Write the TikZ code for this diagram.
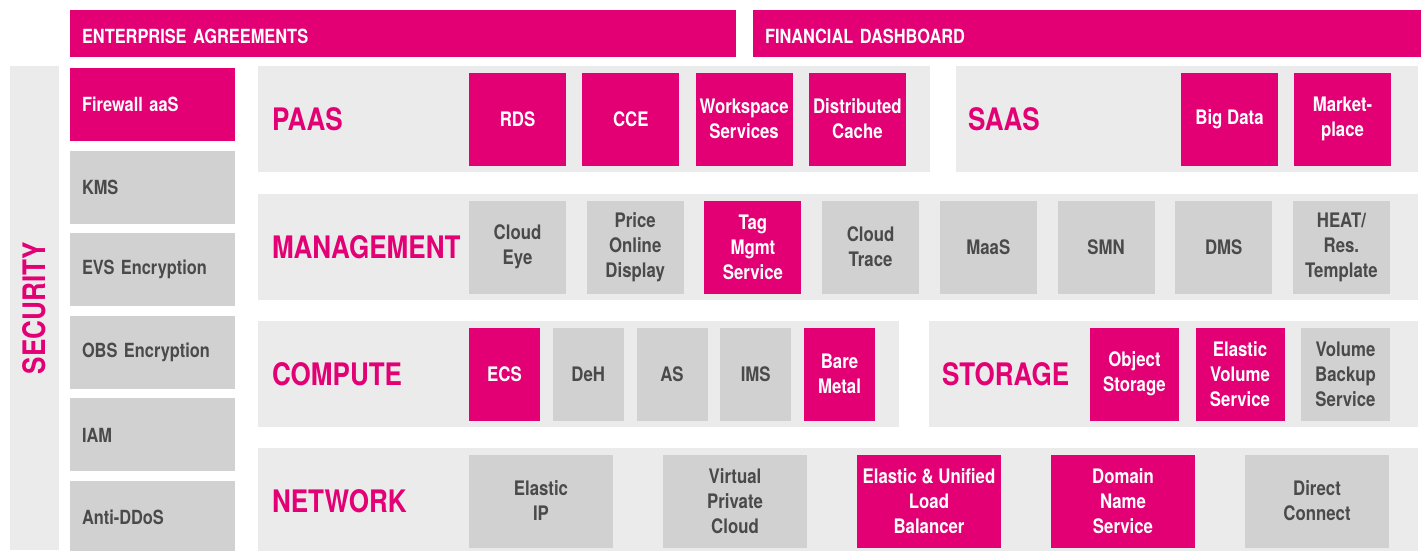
\documentclass[tikz,border=0pt]{standalone}
\usepackage{fontspec}
\setmainfont{TeX Gyre Heros}[FakeStretch=0.84]
\usepackage{tikz}
\usetikzlibrary{positioning}
\definecolor{rosa}{HTML}{E20074}
\definecolor{fondo}{HTML}{EBEBEB}
\definecolor{gris}{HTML}{D0D1D0}
\definecolor{oscuro}{HTML}{4A4A4A}
\tikzset{
	x=1pt, y=-1pt, % Un punto por pixel, y crece hacia abajo
	every node/.style={inner sep=0pt, outer sep=0pt}, % Nodos sin margen
	panel/.style={fill=fondo, minimum height=106pt, anchor=north west}, % Paneles de fondo
	caja/.style={minimum width=97pt, minimum height=93pt, align=center, font=\fontsize{20}{25}\selectfont\bfseries}, % Cajas de servicios
	activo/.style={caja, fill=rosa, text=white}, % Servicio resaltado
	inactivo/.style={caja, fill=gris, text=oscuro}, % Servicio normal
	lateral/.style={fill=gris, text=oscuro, minimum height=73pt, text width=141pt, inner xsep=12pt, align=left, font=\fontsize{19.5}{24}\selectfont\bfseries}, % Columna izquierda
	barra/.style={fill=rosa, text=white, minimum height=47pt, text height=24pt, text depth=5pt, inner xsep=12pt, align=left, anchor=north west, font=\fontsize{19.5}{24}\selectfont\bfseries}, % Barras superiores
	titulo/.style={text=rosa, font=\fontsize{31}{31}\selectfont\bfseries} % Nombre de cada capa
}

\begin{document}
\begin{tikzpicture}
	\useasboundingbox (0,0) rectangle (1421,550);
	% barras superiores
	\node[barra, text width=642pt] (acuerdos) at (70,10) {ENTERPRISE AGREEMENTS};
	\node[barra, text width=644pt] (finanzas) at (753,10) {FINANCIAL DASHBOARD};
	% seguridad
	\node[fill=fondo, minimum width=49pt, minimum height=484pt, anchor=north west] (seguridad) at (10,66) {};
	\node[titulo, rotate=90] (tseguridad) at (seguridad) {SECURITY};
	\node[lateral, fill=rosa, text=white, anchor=north west] (firewall) at (70,68) {Firewall aaS};
	\node[lateral, below=9.6pt of firewall] (kms) {KMS};
	\node[lateral, below=9.6pt of kms] (evs) {EVS Encryption};
	\node[lateral, below=9.6pt of evs] (obs) {OBS Encryption};
	\node[lateral, below=9.6pt of obs] (iam) {IAM};
	\node[lateral, below=9.6pt of iam] (ddos) {Anti-DDoS};
	% paas
	\node[panel, minimum width=672pt] (paas) at (258,66) {};
	\node[titulo, right=14pt of paas.west] (tpaas) {PAAS};
	\node[activo, right=211pt of paas.west] (rds) {RDS};
	\node[activo, right=16.3pt of rds] (cce) {CCE};
	\node[activo, right=16.3pt of cce] (workspace) {Workspace\\Services};
	\node[activo, right=16.3pt of workspace] (cache) {Distributed\\Cache};
	% saas
	\node[panel, minimum width=462pt] (saas) at (956,66) {};
	\node[titulo, right=12pt of saas.west] (tsaas) {SAAS};
	\node[activo, right=225pt of saas.west] (bigdata) {Big Data};
	\node[activo, right=16pt of bigdata] (market) {Market-\\place};
	% management
	\node[panel, minimum width=1160pt] (mgmt) at (258,194) {};
	\node[titulo, right=14pt of mgmt.west] (tmgmt) {MANAGEMENT};
	\node[inactivo, right=211pt of mgmt.west] (cloudeye) {Cloud\\Eye};
	\node[inactivo, right=20.7pt of cloudeye] (price) {Price\\Online\\Display};
	\node[activo, right=20.7pt of price] (tag) {Tag\\Mgmt\\Service};
	\node[inactivo, right=20.7pt of tag] (trace) {Cloud\\Trace};
	\node[inactivo, right=20.7pt of trace] (maas) {MaaS};
	\node[inactivo, right=20.7pt of maas] (smn) {SMN};
	\node[inactivo, right=20.7pt of smn] (dms) {DMS};
	\node[inactivo, right=20.7pt of dms] (heat) {HEAT/\\Res.\\Template};
	% compute
	\node[panel, minimum width=641pt] (compute) at (258,321) {};
	\node[titulo, right=14pt of compute.west] (tcompute) {COMPUTE};
	\node[activo, minimum width=71pt, right=211pt of compute.west] (ecs) {ECS};
	\node[inactivo, minimum width=71pt, right=12.75pt of ecs] (deh) {DeH};
	\node[inactivo, minimum width=71pt, right=12.75pt of deh] (as) {AS};
	\node[inactivo, minimum width=71pt, right=12.75pt of as] (ims) {IMS};
	\node[activo, minimum width=71pt, right=12.75pt of ims] (bare) {Bare\\Metal};
	% storage
	\node[panel, minimum width=489pt] (storage) at (929,321) {};
	\node[titulo, right=13pt of storage.west] (tstorage) {STORAGE};
	\node[activo, minimum width=89pt, right=161pt of storage.west] (object) {Object\\Storage};
	\node[activo, minimum width=89pt, right=16.5pt of object] (evolume) {Elastic\\Volume\\Service};
	\node[inactivo, minimum width=89pt, right=16.5pt of evolume] (backup) {Volume\\Backup\\Service};
	% network
	\node[panel, minimum width=1160pt] (network) at (258,448) {};
	\node[titulo, right=14pt of network.west] (tnetwork) {NETWORK};
	\node[inactivo, minimum width=144pt, right=211pt of network.west] (eip) {Elastic\\IP};
	\node[inactivo, minimum width=144pt, right=50pt of eip] (vpc) {Virtual\\Private\\Cloud};
	\node[activo, minimum width=144pt, right=50pt of vpc] (elb) {Elastic \& Unified\\Load\\Balancer};
	\node[activo, minimum width=144pt, right=50pt of elb] (dns) {Domain\\Name\\Service};
	\node[inactivo, minimum width=144pt, right=50pt of dns] (direct) {Direct\\Connect};
\end{tikzpicture}
\end{document}
